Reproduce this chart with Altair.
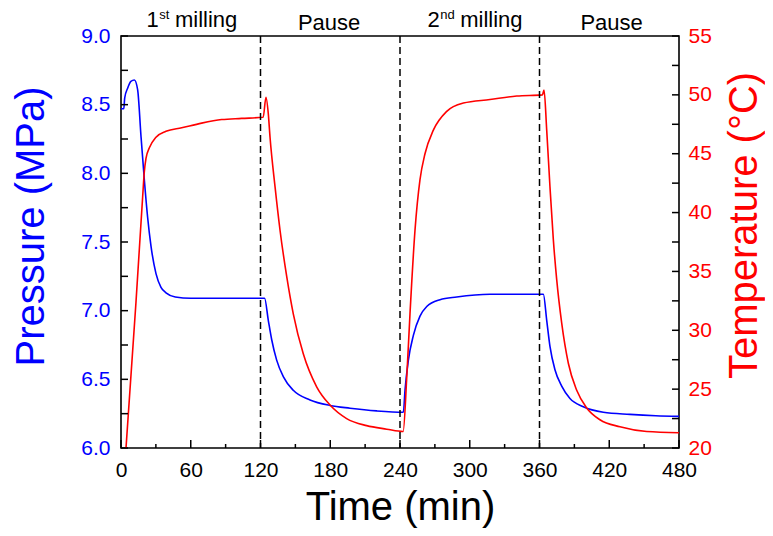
import altair as alt
import pandas as pd

# ---------------- data ----------------
time_p = [0, 2.4, 3.2, 5.7, 8.5, 11.5, 14.3, 17.2, 20.1, 22.9, 25.8, 30.1, 34.4, 38.7,
          46.7, 60, 80, 100, 123.5, 126.7, 129.6, 133.9, 139.6, 148.2, 162.6, 179.8,
          197, 220, 242.9, 244.3, 247.2, 251.5, 257.2, 263, 274.4, 288.8, 317.4, 340,
          363.3, 366.2, 369, 373.3, 379.1, 386.2, 397.7, 414.9, 437.8, 460, 480]
pressure = [8.47, 8.47, 8.55, 8.62, 8.67, 8.68, 8.61, 8.27, 7.95, 7.68, 7.47, 7.27, 7.17, 7.13,
            7.10, 7.09, 7.09, 7.09, 7.09, 6.93, 6.79, 6.64, 6.52, 6.42, 6.35, 6.31,
            6.29, 6.27, 6.26, 6.42, 6.64, 6.82, 6.96, 7.03, 7.08, 7.10, 7.12, 7.12,
            7.12, 6.93, 6.74, 6.57, 6.45, 6.36, 6.30, 6.26, 6.245, 6.235, 6.23]

time_t = [4.3, 12.9, 18.6, 20.0, 21.5, 24.4, 30.1, 38.7, 52.2, 69.4, 86.6, 103.8, 122.3,
          124.7, 126.7, 128.2, 132.5, 136.8, 142.5, 148.2, 156.8, 168.3, 179.8, 194.1,
          211.3, 228.6, 242.7, 245.7, 248.6, 252.9, 257.2, 261.5, 268.7, 280.2, 294.5,
          317.4, 340.4, 362.5, 363.9, 366.2, 369, 371.9, 374.8, 379.1, 384.8, 392,
          400.6, 412, 429.2, 452.2, 480]
temperature = [20.0, 32.4, 41.3, 43.4, 44.6, 45.5, 46.4, 46.9, 47.2, 47.6, 47.9, 48.0, 48.1,
               49.8, 48.4, 46.4, 42.2, 38.5, 34.6, 31.4, 28.0, 25.2, 23.65, 22.5,
               21.9, 21.6, 21.4, 25.8, 31.4, 38.5, 42.8, 45.0, 47.0, 48.6, 49.3,
               49.6, 49.9, 50.0, 50.4, 47.0, 42.2, 37.7, 34.3, 30.6, 27.2, 24.9,
               23.4, 22.4, 21.8, 21.4, 21.3]

phase_t = [120, 240, 360]
label_t = [61, 179, 304.5, 422]
label_main = ["1", "Pause", "2", "Pause"]
label_sup = ["st", "", "nd", ""]
label_rest = ["milling", "", "milling", ""]

x_major = list(range(0, 481, 60))
x_minor = list(range(30, 481, 60))
p_ticks = [6 + 0.25 * i for i in range(13)]
t_ticks = [20 + 2.5 * i for i in range(15)]
p_labels = [6.0, 6.5, 7.0, 7.5, 8.0, 8.5, 9.0]
t_labels = [20, 25, 30, 35, 40, 45, 50, 55]

# ---------------- style ----------------
W, H = 558, 412
FONT = "Liberation Sans"
BLUE = "#0000ff"
RED = "#ff0000"

xscale = alt.Scale(domain=[0, 480], nice=False, zero=False)
pscale = alt.Scale(domain=[6, 9], nice=False, zero=False)
tscale = alt.Scale(domain=[20, 55], nice=False, zero=False)

common = dict(labelFontSize=21, labelFont=FONT, titleFontSize=40, titleFont=FONT,
              titleFontWeight="normal", ticks=False, domain=False, grid=False,
              labelFlush=False, labelOverlap=False, titleBaseline="alphabetic",
              titleAlign="center")

xaxis = alt.Axis(values=x_major, title="Time (min)", labelColor="black",
                 labelPadding=11, titleColor="black", titleAngle=0,
                 titleX=W / 2, titleY=71, **common)
paxis = alt.Axis(orient="left", values=p_labels, format=".1f", title="Pressure (MPa)",
                 labelColor=BLUE, titleColor=BLUE, labelPadding=11, titleAngle=270,
                 titleX=-78, titleY=190, **common)
taxis = alt.Axis(orient="right", values=t_labels, format="d", title="Temperature (°C)",
                 labelColor=RED, titleColor=RED, labelPadding=9, titleAngle=270,
                 titleX=77, titleY=189, **common)

df_p = pd.DataFrame({"t": time_p, "p": pressure})
df_t = pd.DataFrame({"t": time_t, "T": temperature})

X = alt.X("t:Q", scale=xscale, axis=xaxis)

blue = alt.Chart(df_p).mark_line(color=BLUE, strokeWidth=1.6, interpolate="monotone",
                                 clip=True).encode(
    x=X, y=alt.Y("p:Q", scale=pscale, axis=paxis))
red = alt.Chart(df_t).mark_line(color=RED, strokeWidth=1.6, interpolate="monotone",
                                clip=True).encode(
    x=X, y=alt.Y("T:Q", scale=tscale, axis=taxis))
left_ticks = alt.Chart(pd.DataFrame({"p": p_ticks})).mark_rule(
    color="black", strokeWidth=1.5).encode(
    y=alt.Y("p:Q", scale=pscale, axis=None), x=alt.value(0), x2=alt.value(7))
right_ticks = alt.Chart(pd.DataFrame({"T": t_ticks})).mark_rule(
    color="black", strokeWidth=1.5).encode(
    y=alt.Y("T:Q", scale=tscale, axis=None), x=alt.value(W - 7), x2=alt.value(W))

dashed = alt.Chart(pd.DataFrame({"t": phase_t})).mark_rule(
    color="black", strokeDash=[7, 4], strokeWidth=1.5).encode(x=X)
xmaj = alt.Chart(pd.DataFrame({"t": x_major})).mark_rule(
    color="black", strokeWidth=1.5).encode(x=X, y=alt.value(H), y2=alt.value(H - 8))
xmin = alt.Chart(pd.DataFrame({"t": x_minor})).mark_rule(
    color="black", strokeWidth=1.5).encode(x=X, y=alt.value(H), y2=alt.value(H - 4))

# Arial / Liberation Sans advance widths (em) to place the superscripts
EM = {'1': .556, '2': .556, 's': .5, 't': .278, 'n': .556, 'd': .556, ' ': .278,
      'm': .833, 'i': .222, 'l': .222, 'g': .556, 'P': .667, 'a': .556, 'u': .556,
      'e': .556}


def tw(s, size):
    return sum(EM.get(c, .556) for c in s) * size


MAIN_FS, SUP_FS = 22, 13
label_layers = []
for i in range(len(label_t)):
    d = pd.DataFrame({"t": [label_t[i]], "main": [label_main[i]],
                      "sup": [label_sup[i]], "rest": [label_rest[i]]})
    wm = tw(label_main[i], MAIN_FS)
    ws = tw(label_sup[i], SUP_FS)
    gap = tw(" ", MAIN_FS) if label_rest[i] else 0
    wr = tw(label_rest[i], MAIN_FS)
    total = wm + ws + gap + wr
    base_y = -9 if label_sup[i] else -6
    start = -total / 2
    parts = [("main", MAIN_FS, start, base_y)]
    if label_sup[i]:
        parts.append(("sup", SUP_FS, start + wm + 0.5, base_y - 8))
    if label_rest[i]:
        parts.append(("rest", MAIN_FS, start + wm + ws + gap, base_y))
    for col, fs, dx, yy in parts:
        label_layers.append(
            alt.Chart(d).mark_text(align="left", baseline="alphabetic", dx=dx,
                                   font=FONT, fontSize=fs, color="black").encode(
                x=X, y=alt.value(yy), text=f"{col}:N"))

chart = alt.layer(blue, red, left_ticks, right_ticks, dashed, xmaj, xmin,
                  *label_layers).resolve_scale(y="independent").properties(
    width=W, height=H,
    autosize=alt.AutoSizeParams(type="none"),
    padding={"left": 113, "top": 28, "right": 86, "bottom": 80},
    background="white",
).configure_view(stroke="black", strokeWidth=1.6)

chart.save("out.html", embed_options={"renderer": "svg", "actions": False})
